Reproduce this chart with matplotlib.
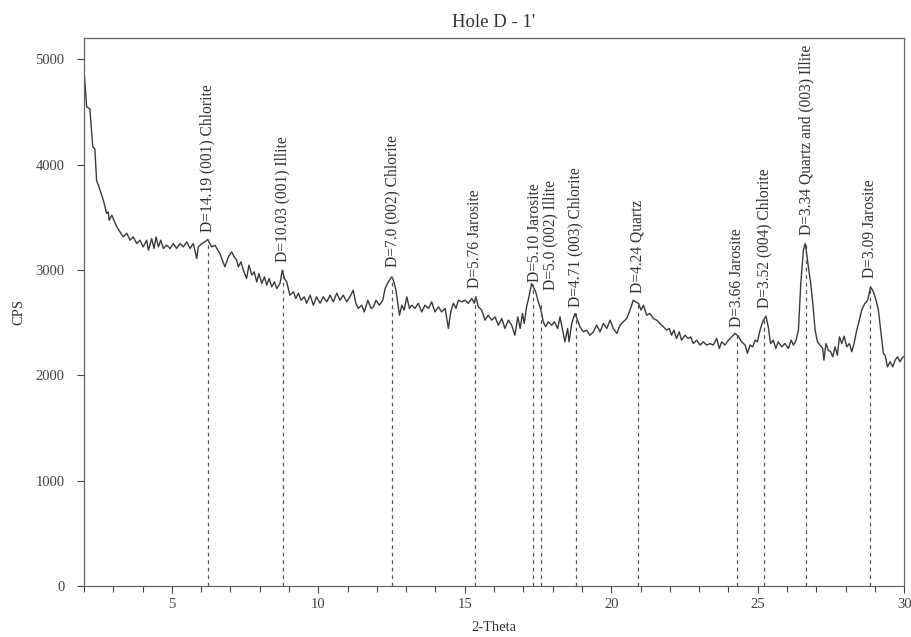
import numpy as np
import matplotlib
matplotlib.use("Agg")
import matplotlib.pyplot as plt
from matplotlib.ticker import MultipleLocator

# difractograma (2-theta, CPS)
two_theta = [
    2.00, 2.04, 2.09, 2.20, 2.30, 2.37, 2.43, 2.55, 2.66, 2.72, 2.77, 2.83, 2.86, 2.95,
    3.12, 3.23, 3.34, 3.46, 3.57, 3.68, 3.80, 3.91, 4.02, 4.14, 4.20, 4.31, 4.39, 4.46,
    4.54, 4.62, 4.71, 4.82, 4.94, 5.05, 5.16, 5.28, 5.39, 5.51, 5.62, 5.73, 5.85, 5.90,
    6.02, 6.13, 6.22, 6.36, 6.47, 6.64, 6.81, 6.93, 7.04, 7.13, 7.21, 7.27, 7.36, 7.44,
    7.55, 7.63, 7.73, 7.81, 7.90, 7.97, 8.07, 8.16, 8.24, 8.32, 8.41, 8.50, 8.58, 8.69,
    8.77, 8.84, 8.92, 9.03, 9.15, 9.23, 9.32, 9.41, 9.52, 9.60, 9.72, 9.83, 9.94, 10.06,
    10.17, 10.29, 10.40, 10.51, 10.63, 10.74, 10.85, 10.97, 11.08, 11.19, 11.28, 11.36,
    11.48, 11.57, 11.69, 11.80, 11.88, 11.97, 12.08, 12.20, 12.28, 12.39, 12.51, 12.58,
    12.65, 12.77, 12.85, 12.93, 13.02, 13.11, 13.19, 13.30, 13.41, 13.53, 13.64, 13.76,
    13.87, 13.98, 14.10, 14.21, 14.33, 14.44, 14.52, 14.61, 14.70, 14.78, 14.89, 15.01,
    15.12, 15.24, 15.32, 15.38, 15.46, 15.58, 15.69, 15.80, 15.92, 16.03, 16.15, 16.26,
    16.37, 16.49, 16.60, 16.71, 16.81, 16.89, 16.97, 17.03, 17.11, 17.19, 17.28, 17.34,
    17.42, 17.51, 17.60, 17.68, 17.76, 17.85, 17.97, 18.06, 18.17, 18.25, 18.33, 18.42,
    18.51, 18.56, 18.65, 18.76, 18.85, 18.93, 19.05, 19.16, 19.27, 19.39, 19.50, 19.62,
    19.73, 19.85, 19.96, 20.07, 20.19, 20.30, 20.41, 20.53, 20.64, 20.75, 20.83, 20.93,
    21.02, 21.10, 21.21, 21.32, 21.44, 21.55, 21.66, 21.78, 21.89, 21.98, 22.06, 22.14,
    22.23, 22.32, 22.40, 22.52, 22.63, 22.71, 22.80, 22.92, 23.03, 23.14, 23.26, 23.37,
    23.48, 23.60, 23.69, 23.77, 23.88, 24.00, 24.11, 24.22, 24.34, 24.45, 24.57, 24.65,
    24.74, 24.83, 24.91, 24.99, 25.08, 25.17, 25.28, 25.36, 25.44, 25.53, 25.62, 25.70,
    25.82, 25.93, 26.05, 26.14, 26.22, 26.31, 26.39, 26.47, 26.56, 26.62, 26.67, 26.73,
    26.81, 26.88, 26.96, 27.04, 27.13, 27.22, 27.26, 27.33, 27.41, 27.49, 27.56, 27.64,
    27.72, 27.79, 27.87, 27.95, 28.04, 28.13, 28.21, 28.29, 28.38, 28.47, 28.55, 28.66,
    28.72, 28.77, 28.85, 28.95, 29.04, 29.12, 29.20, 29.29, 29.35, 29.43, 29.52, 29.61,
    29.69, 29.77, 29.86, 29.92, 29.97,
]
cps = [
    4900, 4750, 4548, 4530, 4168, 4150, 3852, 3757, 3662, 3599, 3537, 3551, 3472, 3520,
    3409, 3362, 3314, 3349, 3283, 3314, 3251, 3283, 3219, 3283, 3188, 3299, 3204, 3314,
    3219, 3283, 3204, 3235, 3204, 3251, 3204, 3251, 3219, 3267, 3204, 3251, 3109, 3219,
    3251, 3267, 3289, 3219, 3235, 3156, 3030, 3124, 3172, 3124, 3093, 3030, 3077, 2998,
    2919, 3046, 2951, 2982, 2887, 2967, 2872, 2935, 2856, 2919, 2840, 2887, 2824, 2872,
    2998, 2919, 2887, 2761, 2793, 2730, 2780, 2713, 2745, 2684, 2761, 2666, 2745, 2684,
    2745, 2698, 2761, 2698, 2780, 2713, 2761, 2698, 2745, 2808, 2684, 2635,
    2666, 2602, 2713, 2635, 2650, 2713, 2666, 2713, 2824, 2887, 2935, 2887,
    2808, 2571, 2666, 2619, 2745, 2635, 2666, 2635, 2684, 2602, 2666, 2635,
    2698, 2602, 2650, 2602, 2635, 2445, 2602, 2684, 2635, 2713, 2698, 2713,
    2684, 2730, 2684, 2745, 2650, 2619, 2524, 2571, 2524, 2555, 2476, 2540,
    2445, 2524, 2476, 2381, 2555, 2445, 2587, 2492, 2650, 2745, 2872, 2840,
    2793, 2698, 2619, 2508, 2461, 2508, 2476, 2508, 2445, 2555, 2445, 2318,
    2445, 2318, 2492, 2587, 2524, 2461, 2413, 2429, 2381, 2413, 2476, 2413,
    2492, 2445, 2524, 2445, 2398, 2476, 2508, 2540, 2619, 2713, 2698, 2684,
    2619, 2666, 2571, 2587, 2540, 2524, 2492, 2461, 2429, 2445, 2381, 2429,
    2350, 2413, 2334, 2381, 2350, 2365, 2302, 2334, 2287, 2318, 2287, 2302,
    2287, 2350, 2255, 2318, 2287, 2334, 2365, 2398, 2372, 2318, 2287, 2208,
    2287, 2271, 2334, 2318, 2429, 2508, 2562, 2461, 2302, 2334, 2255, 2318,
    2271, 2302, 2255, 2334, 2287, 2334, 2429, 2872, 3188, 3251, 3156, 3030,
    2872, 2684, 2429, 2318, 2287, 2255, 2144, 2302, 2239, 2224, 2176, 2271,
    2192, 2365, 2302, 2372, 2271, 2302, 2224, 2302, 2429, 2524, 2619, 2684,
    2698, 2730, 2840, 2793, 2713, 2619, 2429, 2208, 2192, 2081, 2129, 2081,
    2144, 2176, 2129, 2160, 2176,
]

# picos identificados
peak_pos = [6.22, 8.79, 12.52, 15.35, 17.33, 17.59, 18.78, 20.91, 24.28, 25.23, 26.65, 28.83]
peak_cps = [3290, 3000, 2935, 2745, 2870, 2700, 2587, 2700, 2398, 2562, 3250, 2840]
label_cps = [3359, 3074, 3027, 2827, 2884, 2808, 2647, 2780, 2457, 2638, 3330, 2922]
peak_labels = [
    "D=14.19 (001) Chlorite",
    "D=10.03 (001) Illite",
    "D=7.0 (002) Chlorite",
    "D=5.76 Jarosite",
    "D=5.10 Jarosite",
    "D=5.0 (002) Illite",
    "D=4.71 (003) Chlorite",
    "D=4.24 Quartz",
    "D=3.66 Jarosite",
    "D=3.52 (004) Chlorite",
    "D=3.34 Quartz and (003) Illite",
    "D=3.09 Jarosite",
]
label_dx = [0, 0, 0, 0, 0.05, 0.33, 0, 0, 0, 0, 0, 0]

plt.rcParams['font.family'] = ['Liberation Serif', 'DejaVu Serif']

fig = plt.figure(figsize=(9.11, 6.37), dpi=100)
ax = fig.add_axes([0.0922, 0.080, 0.9003, 0.860])

ax.plot(two_theta, cps, color="#3a3a3a", lw=1.0)
ax.vlines(peak_pos, 0, peak_cps, colors="#555555", linestyles=(0, (3, 3)), lw=0.9)
for x, yl, txt, dx in zip(peak_pos, label_cps, peak_labels, label_dx):
    ax.text(x + dx, yl, txt, rotation=90, ha="center", va="bottom",
            fontsize=11.2, color="#333333")

ax.set_xlim(2, 30)
ax.set_ylim(0, 5200)
ax.xaxis.set_major_locator(MultipleLocator(5))
ax.xaxis.set_minor_locator(MultipleLocator(1))
ax.yaxis.set_major_locator(MultipleLocator(1000))
ax.tick_params(axis="both", labelsize=10.5, colors="#444444", length=5, width=0.8)
ax.tick_params(axis="y", pad=9)
ax.tick_params(axis="x", which="minor", length=4, width=0.8, colors="#444444")
for s in ax.spines.values():
    s.set_color("#666666")
    s.set_linewidth(0.9)

ax.set_title("Hole D - 1'", fontsize=13.5, color="#333333", pad=8)
ax.set_xlabel("2-Theta", fontsize=10.5, color="#333333", labelpad=7)
ax.set_ylabel("CPS", fontsize=10.5, color="#333333")
ax.yaxis.set_label_coords(-0.072, 0.5)

fig.savefig("out.png", dpi=100)
